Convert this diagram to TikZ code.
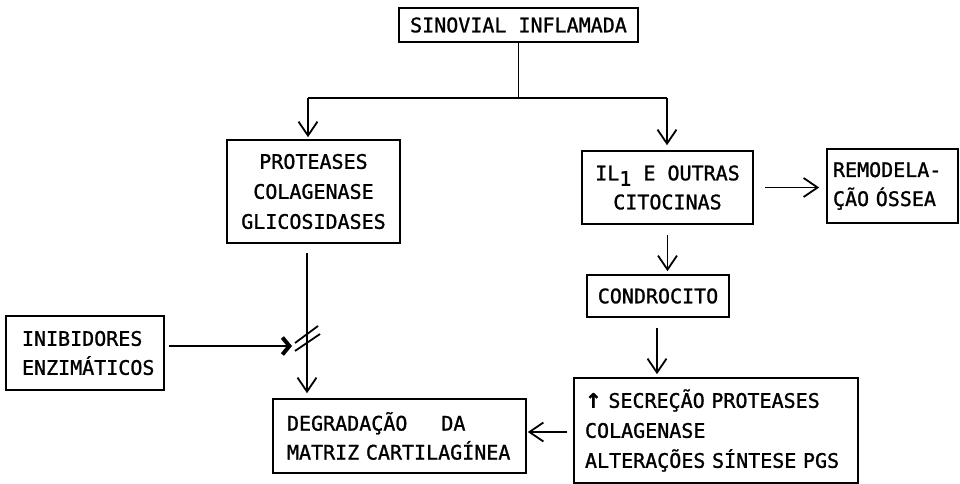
\documentclass[tikz,border=0pt]{standalone}
\usepackage{fontspec}
\setmainfont{DejaVu Sans Mono}[BoldFont=DejaVu Sans Mono, BoldFeatures={FakeBold=1.2}]
\newfontfamily\symfont{DejaVu Sans}[FakeBold=1.5]
\usetikzlibrary{arrows.meta}
\tikzset{
  box/.style={draw, line width=1.6pt, inner sep=0pt, font=\fontsize{20}{30}\selectfont\bfseries},
  cbox/.style={box, align=center},
  lbox/.style={box, align=left},
  line/.style={line width=1.8pt},
  arr/.style={line, -{Straight Barb[length=14pt,width=19pt,line width=1.8pt]}},
  inarr/.style={line, -{Straight Barb[length=7pt,width=17pt,line width=4pt]}},
}
\begin{document}
\begin{tikzpicture}[x=1pt,y=-1pt]
\useasboundingbox (0,0) rectangle (960,484);
% boxes
\node[cbox, minimum width=239pt, minimum height=34pt] (sin) at (518.5,25) {SINOVIAL INFLAMADA};
\node[cbox, minimum width=173pt, minimum height=103pt] (prot) at (313.5,191.5) {PROTEASES\\COLAGENASE\\GLICOSIDASES};
\node[cbox, minimum width=171pt, minimum height=73pt, font=\fontsize{20}{29}\selectfont\bfseries] (il) at (667.5,187.5) {IL\raisebox{-0.5ex}{1} E OUTRAS\\CITOCINAS};
\node[lbox, text width=119pt, inner xsep=6pt, minimum height=74pt, font=\fontsize{20}{29}\selectfont\bfseries] (rem) at (892.5,186) {REMODELA-\\ÇÃO ÓSSEA};
\node[cbox, minimum width=142pt, minimum height=42pt] (cond) at (658,296) {CONDROCITO};
\node[lbox, text width=262pt, inner xsep=11pt, minimum height=105pt] (sec) at (716,430.5) {{\symfont↑} SECREÇÃO PROTEASES\\COLAGENASE\\ALTERAÇÕES SÍNTESE PGS};
\node[lbox, text width=225pt, inner xsep=14pt, minimum height=74pt, font=\fontsize{20}{29}\selectfont\bfseries] (deg) at (399.5,436) {DEGRADAÇÃO\hspace{34pt}DA\\MATRIZ CARTILAGÍNEA};
\node[lbox, text width=126pt, inner xsep=16pt, minimum height=74pt, font=\fontsize{20}{29}\selectfont\bfseries] (inib) at (85,353) {INIBIDORES\\ENZIMÁTICOS};
% helper coordinates
\coordinate (jl) at (308,98);
\coordinate (jr) at (667,98);
\coordinate (vx) at (307,346);
\coordinate (blk) at (292,346);
\coordinate (cx) at (657,0);
\coordinate (sy) at (0,432);
% connectors
\draw[line] (sin.south) -- (sin.south |- jl);
\draw[line] (jl) -- (jr);
\draw[arr, shorten >=2pt] (jl) -- (jl |- prot.north);
\draw[arr, shorten >=5pt] (jr) -- (jr |- il.north);
\draw[arr, shorten <=9pt, shorten >=5pt] (prot.south -| vx) -- (deg.north -| vx);
\draw[inarr, shorten <=4pt] (inib.east |- blk) -- (blk);
\draw[line] (295,343) -- (318,326);
\draw[line] (295,351) -- (320,334);
\draw[arr, shorten <=11pt, shorten >=7pt] (il.east) -- (rem.west |- il.east);
\draw[arr, shorten <=10pt, shorten >=3pt] (il.south) -- (cond.north -| il.south);
\draw[arr, shorten <=10pt, shorten >=3pt] (cond.south -| cx) -- (sec.north -| cx);
\draw[arr, shorten <=6pt, shorten >=1pt] (sec.west |- sy) -- (deg.east |- sy);
\end{tikzpicture}
\end{document}
